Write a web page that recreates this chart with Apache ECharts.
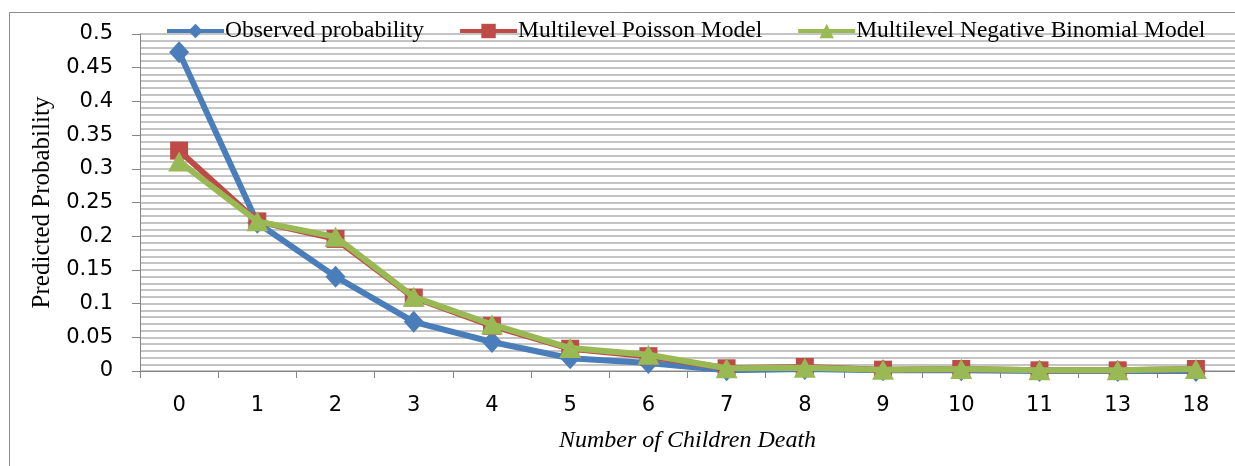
<!DOCTYPE html>
<html><head><meta charset="utf-8">
<script src="https://cdn.jsdelivr.net/npm/echarts@6/dist/echarts.min.js"></script>
<style>html,body{margin:0;padding:0;background:#fff}#c{width:1235px;height:466px}</style>
</head><body><div id="c"></div>
<script>
const categories = ['0','1','2','3','4','5','6','7','8','9','10','11','13','18'];
const observed = [0.473, 0.220, 0.140, 0.073, 0.043, 0.019, 0.012, 0.001, 0.003, 0.001, 0.001, 0.000, 0.000, 0.000];
const poisson  = [0.327, 0.222, 0.196, 0.109, 0.067, 0.033, 0.022, 0.004, 0.006, 0.002, 0.003, 0.001, 0.001, 0.003];
const negbin   = [0.311, 0.222, 0.199, 0.110, 0.069, 0.034, 0.024, 0.004, 0.005, 0.002, 0.003, 0.001, 0.001, 0.003];
const seriesNames = ['Observed probability','Multilevel Poisson Model','Multilevel Negative Binomial Model'];
const yTicks = [0,0.05,0.1,0.15,0.2,0.25,0.3,0.35,0.4,0.45,0.5];

const chart = echarts.init(document.getElementById('c'));
const serif = 'Liberation Serif';
const tickFont = 'DejaVu Sans';
const colors = ['#4A7EBB','#BE4B48','#98B954'];
chart.setOption({
  animation:false,
  backgroundColor:'#fff',
  graphic:[{type:'rect',shape:{x:9.5,y:12.5,width:1240,height:470},style:{fill:'none',stroke:'#8c8c8c',lineWidth:1},z:-1}],
  legend:{
    left:160, top:14, itemWidth:57, itemHeight:18, itemGap:34,
    textStyle:{fontFamily:serif,fontSize:23.5,color:'#000',padding:[0,0,0,-4]},
    data:seriesNames.map((n,i)=>({name:n,lineStyle:{width:4,color:colors[i]}}))
  },
  grid:{left:140,right:-1,top:34,bottom:95},
  xAxis:{
    type:'category', data:categories, boundaryGap:true,
    axisLine:{lineStyle:{color:'#868686',width:1}},
    axisTick:{show:true,interval:0,length:7,lineStyle:{color:'#868686'}},
    axisLabel:{fontFamily:tickFont,fontSize:21,color:'#000',margin:24},
    name:'Number of Children Death', nameLocation:'middle', nameGap:58,
    nameTextStyle:{fontFamily:serif,fontStyle:'italic',fontSize:24,color:'#000'}
  },
  yAxis:{
    type:'value', min:0, max:0.5, interval:0.05,
    axisLine:{show:true,lineStyle:{color:'#868686'}},
    axisTick:{show:true,length:8,lineStyle:{color:'#868686'}},
    axisLabel:{fontFamily:tickFont,fontSize:21,color:'#000',margin:27,
      formatter:v=>{const t=yTicks.find(x=>Math.abs(x-v)<1e-9);return t===undefined?'':String(t);}},
    splitLine:{show:true,lineStyle:{color:'#b0b0b0',width:1.6}},
    minorTick:{show:false,splitNumber:5},
    minorSplitLine:{show:true,lineStyle:{color:'#b0b0b0',width:1.6}},
    name:'Predicted Probability', nameLocation:'middle', nameGap:81,
    nameTextStyle:{fontFamily:serif,fontSize:25,color:'#000'}
  },
  series:[
    {name:seriesNames[0],type:'line',data:observed,symbol:'diamond',symbolSize:[20,22],
     lineStyle:{color:colors[0],width:6},itemStyle:{color:colors[0]},z:2},
    {name:seriesNames[1],type:'line',data:poisson,symbol:'rect',symbolSize:18,
     lineStyle:{color:colors[1],width:6},itemStyle:{color:colors[1]},z:3},
    {name:seriesNames[2],type:'line',data:negbin,symbol:'triangle',symbolSize:[22,20],
     lineStyle:{color:colors[2],width:6},itemStyle:{color:colors[2]},z:4}
  ]
});
</script></body></html>
